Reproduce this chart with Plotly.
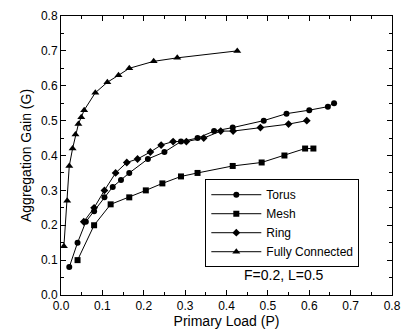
import plotly.graph_objects as go

torus_x = [0.02, 0.04, 0.06, 0.08, 0.105, 0.125, 0.145, 0.165, 0.21, 0.25, 0.29, 0.33, 0.37, 0.415, 0.49, 0.545, 0.60, 0.645, 0.66]
torus_y = [0.08, 0.15, 0.21, 0.24, 0.28, 0.31, 0.33, 0.35, 0.39, 0.41, 0.44, 0.45, 0.47, 0.48, 0.50, 0.52, 0.53, 0.54, 0.55]

mesh_x = [0.04, 0.08, 0.12, 0.165, 0.205, 0.245, 0.29, 0.33, 0.415, 0.485, 0.54, 0.59, 0.61]
mesh_y = [0.10, 0.20, 0.26, 0.28, 0.30, 0.32, 0.34, 0.35, 0.37, 0.38, 0.40, 0.42, 0.42]

ring_x = [0.055, 0.08, 0.105, 0.132, 0.159, 0.185, 0.216, 0.242, 0.271, 0.303, 0.345, 0.386, 0.416, 0.482, 0.55, 0.594]
ring_y = [0.21, 0.25, 0.30, 0.35, 0.38, 0.39, 0.41, 0.43, 0.44, 0.44, 0.45, 0.47, 0.47, 0.48, 0.49, 0.50]

full_x = [0.007, 0.015, 0.02, 0.028, 0.035, 0.042, 0.049, 0.056, 0.083, 0.112, 0.139, 0.165, 0.224, 0.281, 0.426]
full_y = [0.14, 0.27, 0.37, 0.42, 0.46, 0.49, 0.51, 0.53, 0.58, 0.61, 0.63, 0.65, 0.67, 0.68, 0.70]

FONT = "Liberation Sans, Arial, sans-serif"

fig = go.Figure()
series = [
    ("Torus", torus_x, torus_y, "circle", 6),
    ("Mesh", mesh_x, mesh_y, "square", 6),
    ("Ring", ring_x, ring_y, "diamond", 6),
    ("Fully Connected", full_x, full_y, "triangle-up", 7),
]
for name, xs, ys, sym, sz in series:
    fig.add_trace(go.Scatter(
        x=xs, y=ys, name=name, mode="lines+markers",
        line=dict(color="black", width=1),
        marker=dict(symbol=sym, size=sz, color="black"),
    ))

axis_common = dict(
    showline=True, linecolor="black", linewidth=1, mirror="ticks",
    ticks="inside", ticklen=5, tickcolor="black", tickwidth=1,
    showgrid=False, zeroline=False,
    tickfont=dict(family=FONT, size=12, color="black"),
    minor=dict(ticks="inside", ticklen=3, tickcolor="black", dtick=0.05),
)
fig.update_xaxes(range=[0, 0.8], dtick=0.1, tickformat=".1f",
                 title=dict(text="Primary Load (P)", font=dict(family=FONT, size=14, color="black"), standoff=2),
                 **axis_common)
fig.update_yaxes(range=[0, 0.8], dtick=0.1, tickformat=".1f",
                 title=dict(text="Aggregation Gain (G)", font=dict(family=FONT, size=14, color="black"), standoff=6),
                 **axis_common)

fig.add_annotation(x=0.54, y=0.056, xref="x", yref="y", text="F=0.2, L=0.5",
                   showarrow=False, font=dict(family=FONT, size=14, color="black"))

fig.update_layout(
    width=410, height=335,
    margin=dict(l=61, r=9, t=12, b=40),
    plot_bgcolor="white", paper_bgcolor="white",
    font=dict(family=FONT, color="black"),
    legend=dict(x=0.436, y=0.415, xanchor="left", yanchor="top",
                bordercolor="black", borderwidth=1, bgcolor="white",
                font=dict(family=FONT, size=12, color="black"),
                tracegroupgap=0, itemwidth=50),
    showlegend=True,
)

fig.write_html("out.html", config={"displayModeBar": False},
               post_script="document.body.style.margin='0px';")
